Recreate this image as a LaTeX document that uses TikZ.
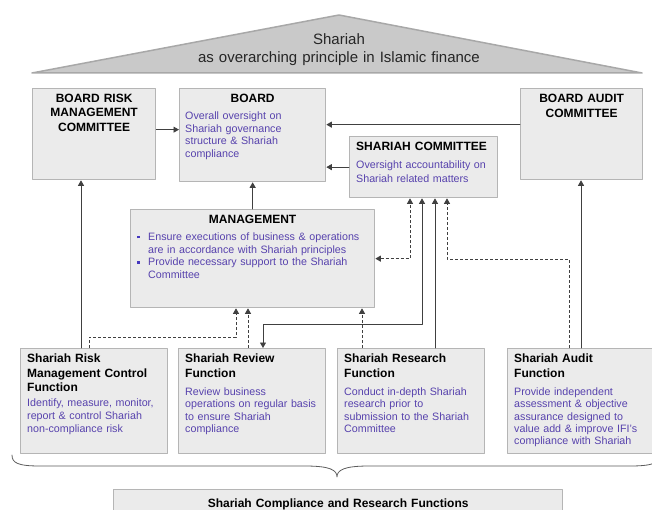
\documentclass[tikz,border=0pt]{standalone}
\usepackage{fontspec}
\setmainfont{Liberation Sans}
\usepackage{xcolor}
\usepackage{tikz}
\usetikzlibrary{calc}
\usetikzlibrary{arrows.meta}
\definecolor{ebebeb}{rgb}{0.92,0.92,0.92}
\definecolor{b4b4b4}{rgb}{0.71,0.71,0.71}
\definecolor{c9c9c9}{rgb}{0.79,0.79,0.79}
\definecolor{a9a9a9}{rgb}{0.66,0.66,0.66}
\definecolor{sqsqsq}{rgb}{0.25,0.25,0.25}
\definecolor{uuwwaa}{rgb}{0.34,0.26,0.68}
\definecolor{ttqqcc}{rgb}{0.27,0.22,0.75}
\tikzstyle{every node}=[inner sep=0pt]
\tikzstyle{box}=[draw=b4b4b4,fill=ebebeb,line width=1.3pt,anchor=north west]
\tikzstyle{ttl}=[font=\fontsize{12}{14.5}\selectfont\bfseries,text=black]
\tikzstyle{txt}=[font=\fontsize{10.7}{12.5}\selectfont,text=uuwwaa,align=left]
\tikzstyle{link}=[->,line width=.9pt,color=sqsqsq]
\tikzstyle{dlink}=[link,line cap=butt,dash pattern=on 3pt off 2pt]
\newcommand{\blt}{\leavevmode\llap{\textcolor{ttqqcc}{\rule[2pt]{2.8pt}{2.8pt}}\hspace{8.5pt}}}
\begin{document}
\begin{tikzpicture}[line cap=round,line join=round,>={Triangle[length=5.5pt,width=6pt]},x=1pt,y=-1pt]
            \useasboundingbox (0,0) rectangle (652,510);
            \clip (0,0) rectangle (652,510);
            % roof
            \draw [fill=c9c9c9,draw=a9a9a9,line width=1.5pt] (32,73) -- (339,15) -- (642,73) -- cycle;
            \node [anchor=base,text width=420pt,align=center,font=\fontsize{15}{18}\selectfont,text=black!85] (roof) at (339,44.5) {Shariah\\as overarching principle in Islamic finance};
            % boxes
            \node [box,minimum width=123pt,minimum height=91pt] (brmc) at (32,88) {};
            \node [box,minimum width=146pt,minimum height=93pt] (board) at (179,88) {};
            \node [box,minimum width=148pt,minimum height=61pt] (sc) at (349,136) {};
            \node [box,minimum width=122pt,minimum height=91pt] (bac) at (520,88) {};
            \node [box,minimum width=244pt,minimum height=98pt] (mgmt) at (130,209) {};
            \node [box,minimum width=147pt,minimum height=105pt] (risk) at (20,348) {};
            \node [box,minimum width=147pt,minimum height=105pt] (review) at (178,348) {};
            \node [box,minimum width=147pt,minimum height=105pt] (research) at (337,348) {};
            \node [box,minimum width=150pt,minimum height=105pt] (audit) at (507,348) {};
            \node [box,minimum width=449pt,minimum height=30pt] (crf) at (113,489) {};
            % texts
            \node [ttl,anchor=base,text width=120pt,align=center] (brmc-t) at ($(brmc.north)+(0,14.5)$) {BOARD RISK\\MANAGEMENT\\COMMITTEE};
            \node [ttl,anchor=base,text width=140pt,align=center] (board-t) at ($(board.north)+(0,14.5)$) {BOARD};
            \node [txt,anchor=base west,text width=138pt] (board-b) at ($(board.north west)+(6,32)$) {Overall oversight on\\Shariah governance\\structure \& Shariah\\compliance};
            \node [ttl,anchor=base west,text width=140pt] (sc-t) at ($(sc.north west)+(7,15)$) {SHARIAH COMMITTEE};
            \node [txt,anchor=base west,text width=140pt,font=\fontsize{10.7}{14}\selectfont] (sc-b) at ($(sc.north west)+(7,32.5)$) {Oversight accountability on\\Shariah related matters};
            \node [ttl,anchor=base,text width=120pt,align=center,font=\fontsize{12}{15}\selectfont\bfseries] (bac-t) at ($(bac.north)+(0,14.5)$) {BOARD AUDIT\\COMMITTEE};
            \node [ttl,anchor=base,text width=200pt,align=center] (mgmt-t) at ($(mgmt.north)+(0,14.5)$) {MANAGEMENT};
            \node [txt,anchor=base west,text width=224pt,font=\fontsize{10.7}{12.7}\selectfont] (mgmt-b) at ($(mgmt.north west)+(18,31.5)$) {\blt Ensure executions of business \& operations\\are in accordance with Shariah principles\par\blt Provide necessary support to the Shariah\\Committee};
            \node [ttl,anchor=base west,text width=140pt] (risk-t) at ($(risk.north west)+(7,14.5)$) {Shariah Risk\\Management Control\\Function};
            \node [txt,anchor=base west,text width=140pt,font=\fontsize{10.7}{13}\selectfont] (risk-b) at ($(risk.north west)+(7,58.5)$) {Identify, measure, monitor,\\report \& control Shariah\\non-compliance risk};
            \node [ttl,anchor=base west,text width=140pt] (review-t) at ($(review.north west)+(7,14.5)$) {Shariah Review\\Function};
            \node [txt,anchor=base west,text width=140pt,font=\fontsize{10.7}{12.3}\selectfont] (review-b) at ($(review.north west)+(7,47.5)$) {Review business\\operations on regular basis\\to ensure Shariah\\compliance};
            \node [ttl,anchor=base west,text width=140pt] (research-t) at ($(research.north west)+(7,14.5)$) {Shariah Research\\Function};
            \node [txt,anchor=base west,text width=140pt,font=\fontsize{10.7}{12.3}\selectfont] (research-b) at ($(research.north west)+(7,47.5)$) {Conduct in-depth Shariah\\research prior to\\submission to the Shariah\\Committee};
            \node [ttl,anchor=base west,text width=140pt] (audit-t) at ($(audit.north west)+(7,14.5)$) {Shariah Audit\\Function};
            \node [txt,anchor=base west,text width=140pt,font=\fontsize{10.7}{12.3}\selectfont] (audit-b) at ($(audit.north west)+(7,47.5)$) {Provide independent\\assessment \& objective\\assurance designed to\\value add \& improve IFI's\\compliance with Shariah};
            \node [ttl,anchor=base,text width=440pt,align=center] (crf-t) at ($(crf.north)+(0,18.5)$) {Shariah Compliance and Research Functions};
            % connectors
            \draw [link] ($(brmc.east)+(0,-4.5)$) -- ($(brmc.east -| board.west)+(0,-4.5)$);
            \draw [link] ($(bac.west)+(0,-9.5)$) -- ($(bac.west -| board.east)+(0,-9.5)$);
            \draw [link] (sc.west) -- (sc.west -| board.east);
            \draw [link] (mgmt.north) -- (board.south);
            \draw [link] ($(risk.north west)+(61,0)$) -- ($(brmc.south west)+(49,0)$);
            \draw [link] ($(audit.north west)+(74,0)$) -- ($(bac.south west)+(61,0)$);
            \draw [dlink,<->] (mgmt.east) -| ($(sc.south west)+(61,0)$);
            \draw [link,<->] ($(sc.south west)+(73,0)$) |- ($(review.north west)+(85,-24)$) -- ($(review.north west)+(85,0)$);
            \draw [link] ($(research.north west)+(98,0)$) -- ($(sc.south west)+(86,0)$);
            \draw [dlink] ($(audit.north west)+(62,0)$) |- ($(sc.south west)+(98,61)$) -- ($(sc.south west)+(98,0)$);
            \draw [dlink] ($(risk.north west)+(69,0)$) |- ($(mgmt.south west)+(106,29)$) -- ($(mgmt.south west)+(106,0)$);
            \draw [dlink] ($(review.north west)+(70,0)$) -- ($(mgmt.south west)+(118,0)$);
            \draw [dlink] ($(research.north west)+(25,0)$) -- ($(mgmt.south west)+(232,0)$);
            % brace
            \draw [line width=.8pt,color=sqsqsq!85] (12,455) .. controls (12,463) and (18,466) .. (40,466) -- (305,466) .. controls (330,466) and (337,470) .. (337,477) .. controls (337,470) and (344,466) .. (369,466) -- (630,466) .. controls (652,466) and (660,463) .. (662,455);
            \end{tikzpicture}
\end{document}
